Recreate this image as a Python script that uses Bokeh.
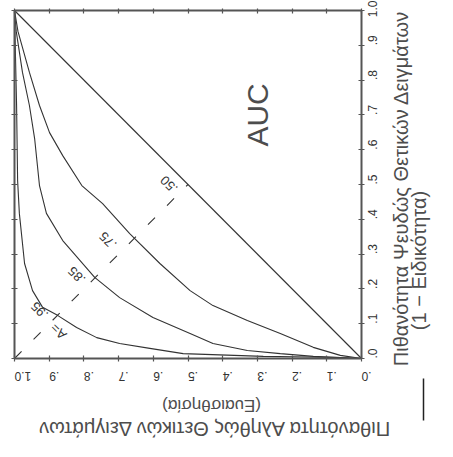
import math
from bokeh.plotting import figure
from bokeh.layouts import row, column
from bokeh.models import Range1d, LinearAxis, FixedTicker, Label, CustomLabelingPolicy
from bokeh.embed import file_html
from bokeh.resources import INLINE

# ---- data ----
ticks = [0.0, 0.1, 0.2, 0.3, 0.4, 0.5, 0.6, 0.7, 0.8, 0.9, 1.0]
tick_labels = [".0", ".1", ".2", ".3", ".4", ".5", ".6", ".7", ".8", ".9", "1.0"]

# sensitivity (true positive rate) and 1 - specificity (false positive rate)
diag_tpr = [0.0, 1.0]
diag_fpr = [0.0, 1.0]

auc75_tpr = [0.0, 0.061, 0.139, 0.234, 0.329, 0.428, 0.494, 0.581, 0.668, 0.746, 0.806, 0.861, 0.899, 0.928, 0.957, 0.990, 1.0]
auc75_fpr = [0.0, 0.009, 0.032, 0.072, 0.109, 0.152, 0.195, 0.273, 0.359, 0.445, 0.497, 0.583, 0.649, 0.727, 0.822, 0.940, 1.0]

auc85_tpr = [0.0, 0.139, 0.234, 0.329, 0.428, 0.494, 0.601, 0.697, 0.769, 0.861, 0.908, 0.928, 0.942, 0.957, 0.977, 0.995, 1.0]
auc85_fpr = [0.0, 0.006, 0.014, 0.023, 0.043, 0.072, 0.118, 0.175, 0.233, 0.339, 0.417, 0.497, 0.632, 0.727, 0.822, 0.940, 1.0]

auc95_tpr = [0.0, 0.061, 0.283, 0.514, 0.610, 0.697, 0.763, 0.821, 0.876, 0.919, 0.948, 0.971, 0.986, 0.991, 0.994, 0.999, 1.0]
auc95_fpr = [0.0, 0.003, 0.006, 0.014, 0.029, 0.043, 0.060, 0.089, 0.124, 0.147, 0.195, 0.273, 0.417, 0.511, 0.727, 0.950, 1.0]

guide_tpr = [1.0, 0.5]
guide_fpr = [0.0, 0.5]

curve_labels = ["A=", ".95", ".85", ".75", ".50"]
curve_label_tpr = [0.873, 0.928, 0.821, 0.731, 0.555]
curve_label_fpr = [0.078, 0.138, 0.239, 0.339, 0.500]

x_title = "Πιθανότητα Ψευδώς Θετικών Δειγμάτων"
x_title2 = "(1 − Ειδικότητα)"
y_title = "Πιθανότητα Αληθώς Θετικών Δειγμάτων"
y_title2 = "(Ευαισθησία)"

# ---- layout geometry (pixels) ----
W, H = 453, 457
L, T = 14, 10            # frame offset inside main figure
FW, FH = 347, 348        # frame size
RB, BB = 30, 36          # right/bottom borders of main figure (tick labels)
MW, MH = L + FW + RB, T + FH + BB

def tpr_px(px):          # page x -> sensitivity value
    return (L + FW - px) / FW

def fpr_px(py):          # page y -> 1 - specificity value
    return (T + FH - py) / FH

FONT = "Liberation Sans"
INK = "#333333"
AX = "#555555"
TXT = "#4d4d4d"

p = figure(frame_width=FW, frame_height=FH,
           x_range=Range1d(1.0, 0.0), y_range=Range1d(0.0, 1.0),
           output_backend="svg", toolbar_location=None,
           x_axis_location=None, y_axis_location=None,
           min_border_left=L, min_border_top=T, min_border_right=RB, min_border_bottom=BB)
p.background_fill_color = "white"
p.border_fill_color = "white"
p.outline_line_color = None
p.xgrid.visible = False
p.ygrid.visible = False

overrides = {t: l for t, l in zip(ticks, tick_labels)}
hide_all = CustomLabelingPolicy(code="for (const i of indices) indices.unset(i); return indices")

def tick_axis(show_labels):
    ax = LinearAxis(ticker=FixedTicker(ticks=ticks))
    ax.axis_line_color = AX
    ax.axis_line_width = 2
    ax.major_tick_line_color = AX
    ax.major_tick_line_width = 1.2
    ax.major_tick_in = 3
    ax.major_tick_out = 3
    ax.minor_tick_line_color = None
    if show_labels:
        ax.major_label_overrides = overrides
        ax.major_label_text_font = FONT
        ax.major_label_text_font_size = "12px"
        ax.major_label_text_color = "#333333"
    else:
        ax.major_label_policy = hide_all
        ax.major_label_text_font_size = "0px"
        ax.major_label_standoff = 0
    return ax

bottom = tick_axis(True)
bottom.major_label_orientation = math.pi
bottom.major_label_standoff = 15
p.add_layout(bottom, "below")

right = tick_axis(True)
right.major_label_orientation = math.pi / 2
right.major_label_standoff = 8
p.add_layout(right, "right")

top = tick_axis(False)
top.major_tick_out = 2
p.add_layout(top, "above")

left = tick_axis(False)
p.add_layout(left, "left")

# curves (x = sensitivity, reversed; y = 1 - specificity)
p.line(diag_tpr, diag_fpr, line_color=INK, line_width=1.1)
p.line(auc75_tpr, auc75_fpr, line_color=INK, line_width=1.1)
p.line(auc85_tpr, auc85_fpr, line_color=INK, line_width=1.1)
p.line(auc95_tpr, auc95_fpr, line_color=INK, line_width=1.1)
p.line(guide_tpr, guide_fpr, line_color=INK, line_width=1.1, line_dash="10 17")

for t, x, y in zip(curve_labels, curve_label_tpr, curve_label_fpr):
    p.add_layout(Label(x=x, y=y, text=t, angle=3 * math.pi / 4,
                       text_align="center", text_baseline="middle",
                       text_font=FONT, text_font_size="13px", text_color=INK))

p.add_layout(Label(x=0.30, y=0.70, text="AUC", angle=math.pi / 2,
                   text_align="center", text_baseline="middle",
                   text_font=FONT, text_font_size="30px", text_color=TXT))

def blank(width, height, xr, yr):
    f = figure(frame_width=width, frame_height=height, x_range=xr, y_range=yr,
               output_backend="svg", toolbar_location=None,
               x_axis_location=None, y_axis_location=None,
               min_border_left=0, min_border_right=0, min_border_top=0, min_border_bottom=0)
    f.outline_line_color = None
    f.background_fill_color = "white"
    f.border_fill_color = "white"
    f.xgrid.visible = False
    f.ygrid.visible = False
    return f

# right strip: title of the (rotated) false-positive axis
pr = blank(W - MW, H, Range1d(tpr_px(MW), tpr_px(W)), Range1d(fpr_px(H), fpr_px(0)))
pr.add_layout(Label(x=tpr_px(400), y=fpr_px(188), text=x_title, angle=math.pi / 2,
                    text_align="center", text_baseline="middle",
                    text_font=FONT, text_font_size="20px", text_color=TXT))
pr.add_layout(Label(x=tpr_px(418), y=fpr_px(260), text=x_title2, angle=math.pi / 2,
                    text_align="center", text_baseline="middle",
                    text_font=FONT, text_font_size="20px", text_color=TXT))
pr.line([tpr_px(423), tpr_px(423)], [fpr_px(378), fpr_px(420)],
        line_color="#222222", line_width=1.5)

# bottom strip: title of the (rotated) true-positive axis
pb = blank(MW, H - MH, Range1d(tpr_px(0), tpr_px(MW)), Range1d(fpr_px(H), fpr_px(MH)))
pb.add_layout(Label(x=tpr_px(197), y=fpr_px(405), text=y_title2, angle=math.pi,
                    text_align="center", text_baseline="middle",
                    text_font=FONT, text_font_size="17px", text_color=TXT))
pb.add_layout(Label(x=tpr_px(199), y=fpr_px(428), text=y_title, angle=math.pi,
                    text_align="center", text_baseline="middle",
                    text_font=FONT, text_font_size="20px", text_color=TXT))

layout = row(column(p, pb), pr)
open("out.html", "w").write(file_html(layout, INLINE))
